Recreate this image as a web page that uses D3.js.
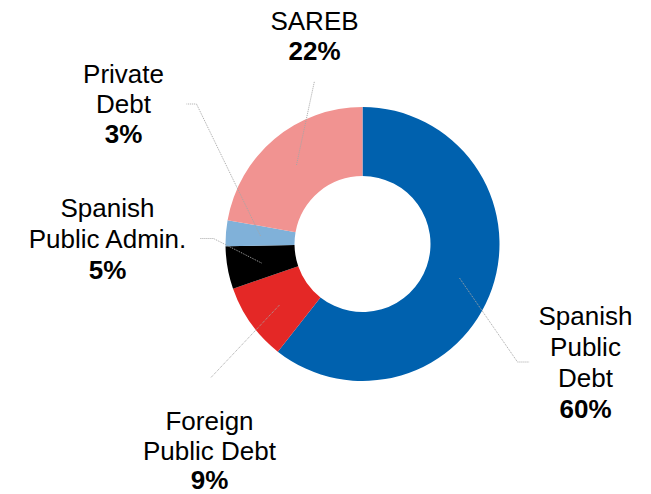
<!DOCTYPE html>
<html>
<head>
<meta charset="utf-8">
<script src="https://cdn.jsdelivr.net/npm/d3@7"></script>
<style>
  body { margin: 0; background: #ffffff; }
  text { font-family: 'Liberation Sans', Arial, sans-serif; fill: #000000; }
</style>
</head>
<body>
<div id="chart"></div>
<script>
// slice data, clockwise from 12 o'clock
const categories = ['Spanish Public Debt', 'Foreign Public Debt', 'Spanish Public Admin.', 'Private Debt', 'SAREB']
const shares = [60, 9, 5, 3, 22]
const colors = ['#0061ae', '#e42826', '#000000', '#80b1d9', '#f19391']
// label lines as shown in the reference
const labelLines = [
  ['Spanish', 'Public', 'Debt'],
  ['Foreign', 'Public Debt'],
  ['Spanish', 'Public Admin.'],
  ['Private', 'Debt'],
  ['SAREB']
]
const pctLabels = ['60%', '9%', '5%', '3%', '22%']

const width = 651, height = 494
const cx = 362.5, cy = 244
const outerR = 137, innerR = 68

const svg = d3.select('#chart')
  .append('svg')
    .attr('width', width)
    .attr('height', height)

const g = svg.append('g')
  .attr('transform', 'translate(' + cx + ',' + cy + ')')

const pie = d3.pie().sort(null).value(d => d)
const arcs = pie(shares)
const arc = d3.arc().innerRadius(innerR).outerRadius(outerR)

g.selectAll('path.slice')
  .data(arcs)
  .enter()
  .append('path')
    .attr('class', 'slice')
    .attr('d', arc)
    .style('fill', (d, i) => colors[i])

// label placement (center x, first baseline) and leader line geometry, relative to center
const labelPos = [
  { x: 223, y: 81, lh: 31, line: [[97, 34], [155, 118], [167, 118]] },
  { x: -153, y: 186, lh: 29.5, line: [[-83, 61], [-152, 134]] },
  { x: -255, y: -27, lh: 31, line: [[-101, 19], [-149, -5.5], [-163, -5.5]] },
  { x: -239, y: -161, lh: 30, line: [[-102, -8], [-166, -140], [-176, -140]] },
  { x: -48, y: -214, lh: 30, line: [[-66, -79], [-48, -163]] }
]

// leader lines
const lineGen = d3.line()
g.selectAll('path.leader')
  .data(labelPos)
  .enter()
  .append('path')
    .attr('class', 'leader')
    .attr('d', d => lineGen(d.line))
    .style('fill', 'none')
    .style('stroke', '#a6a6a6')
    .style('stroke-width', 1)
    .style('stroke-dasharray', '1,1')

// labels
labelPos.forEach(function(p, i) {
  const t = g.append('text')
    .attr('text-anchor', 'middle')
    .style('font-size', '26px')
  labelLines[i].forEach(function(s, j) {
    t.append('tspan')
      .attr('x', p.x)
      .attr('y', p.y + j * p.lh)
      .text(s)
  })
  t.append('tspan')
    .attr('x', p.x)
    .attr('y', p.y + labelLines[i].length * p.lh)
    .style('font-weight', 'bold')
    .text(pctLabels[i])
})
</script>
</body>
</html>
